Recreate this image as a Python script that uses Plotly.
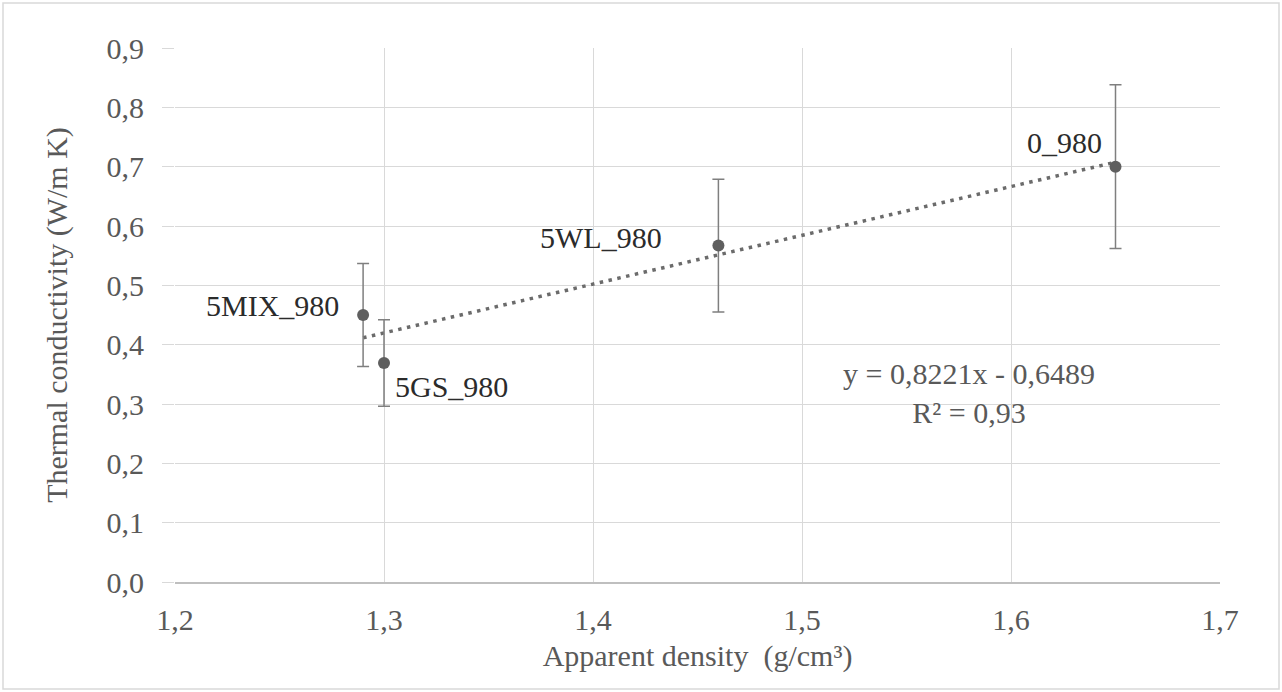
import plotly.graph_objects as go

# Data
samples = ["5MIX_980", "5GS_980", "5WL_980", "0_980"]
density = [1.29, 1.30, 1.46, 1.65]
conductivity = [0.45, 0.369, 0.567, 0.70]
error = [0.087, 0.073, 0.112, 0.138]

# Linear trendline (as reported on chart)
slope = 0.8221
intercept = -0.6489
r2 = 0.93

x_ticks = [1.2, 1.3, 1.4, 1.5, 1.6, 1.7]
y_ticks = [0.0, 0.1, 0.2, 0.3, 0.4, 0.5, 0.6, 0.7, 0.8, 0.9]

FONT = "Liberation Serif, Times New Roman, serif"
GRAY = "#595959"
FS = 30

fig = go.Figure()

# Trendline
tx = [min(density), max(density)]
ty = [slope * v + intercept for v in tx]
fig.add_trace(go.Scatter(
    x=tx, y=ty, mode="lines",
    line=dict(color="#6b6b6b", width=3.5, dash="3.5px,5.5px"),
    hoverinfo="skip", showlegend=False,
))

# Points with error bars
fig.add_trace(go.Scatter(
    x=density, y=conductivity, mode="markers",
    marker=dict(color="#5f5f5f", size=12),
    error_y=dict(type="data", array=error, visible=True,
                 color="#7f7f7f", thickness=1.5, width=6),
    showlegend=False,
))

# Data labels
label_pos = {
    "5MIX_980": dict(xanchor="right", yanchor="middle", xshift=-22, yshift=10),
    "5GS_980": dict(xanchor="left", yanchor="middle", xshift=9, yshift=-23),
    "5WL_980": dict(xanchor="right", yanchor="middle", xshift=-54, yshift=8),
    "0_980": dict(xanchor="right", yanchor="middle", xshift=-12, yshift=24),
}
for name, xv, yv in zip(samples, density, conductivity):
    p = label_pos[name]
    fig.add_annotation(x=xv, y=yv, text=name, showarrow=False,
                       font=dict(family=FONT, size=FS, color="#2b2b2b"), **p)

# Equation label
sign = "-" if intercept < 0 else "+"
eq_text = (f"y = {slope:.4f}x {sign} {abs(intercept):.4f}".replace(".", ",")
           + "<br>" + f"R² = {r2:.2f}".replace(".", ","))
fig.add_annotation(x=1.58, y=0.318, text=eq_text, showarrow=False,
                   align="center", xanchor="center", yanchor="middle",
                   font=dict(family=FONT, size=FS, color=GRAY))

# Outer chart border
pw = 1282 - 175 - 62
ph = 692 - 48 - 110
fig.add_shape(type="rect", xref="paper", yref="paper",
              x0=(3 - 175) / pw, x1=(1279 - 175) / pw,
              y0=-(689 - 48 - ph) / ph, y1=1 + (48 - 3) / ph,
              line=dict(color="#d9d9d9", width=1.5), layer="below")

fig.update_layout(
    width=1282, height=692,
    margin=dict(l=175, r=62, t=48, b=110),
    paper_bgcolor="white", plot_bgcolor="white",
    separators=", ",
    font=dict(family=FONT, size=FS, color=GRAY),
    xaxis=dict(
        range=[1.2, 1.7], tickvals=x_ticks,
        ticktext=[f"{v:.1f}".replace(".", ",") for v in x_ticks],
        showgrid=True, gridcolor="#d9d9d9", gridwidth=1.2,
        zeroline=False, showline=True, linecolor="#bfbfbf", linewidth=1.5,
        ticks="", ticklabelstandoff=10,
        tickfont=dict(family=FONT, size=FS, color=GRAY),
        title=dict(text="Apparent density  (g/cm³)",
                   font=dict(family=FONT, size=FS, color=GRAY), standoff=10),
    ),
    yaxis=dict(
        range=[0, 0.9], tickvals=y_ticks,
        ticktext=[f"{v:.1f}".replace(".", ",") for v in y_ticks],
        showgrid=True, gridcolor="#d9d9d9", gridwidth=1.2,
        zeroline=False, showline=False,
        ticks="outside", ticklen=12, tickcolor="#d9d9d9", tickwidth=1.2,
        ticklabelstandoff=12,
        tickfont=dict(family=FONT, size=FS, color=GRAY),
        title=dict(text="Thermal conductivity (W/m K)",
                   font=dict(family=FONT, size=FS, color=GRAY), standoff=30),
    ),
)

fig.write_html("out.html")
